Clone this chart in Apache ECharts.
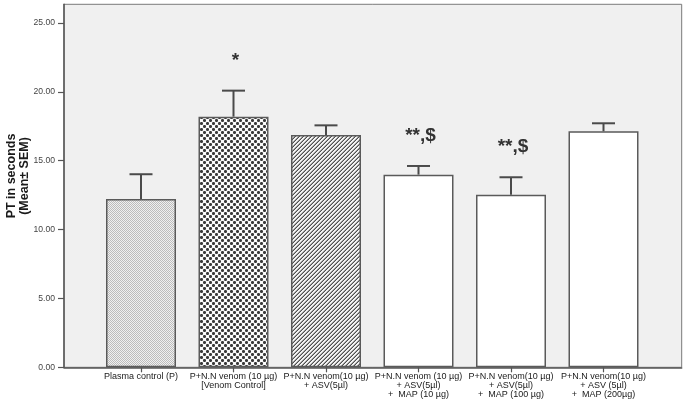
<!DOCTYPE html>
<html>
<head>
<meta charset="utf-8">
<script src="https://cdn.jsdelivr.net/npm/echarts@6/dist/echarts.min.js"></script>
<style>html,body{margin:0;padding:0;background:#fff;}#c{width:685px;height:405px;}</style>
</head>
<body>
<div id="c"></div>
<script>
const categories = [
  'Plasma control (P)',
  'P+N.N venom (10 µg)\n[Venom Control]',
  'P+N.N venom(10 µg)\n+ ASV(5µl)',
  'P+N.N venom (10 µg)\n+ ASV(5µl)\n+  MAP (10 µg)',
  'P+N.N venom(10 µg)\n+ ASV(5µl)\n+  MAP (100 µg)',
  'P+N.N venom(10 µg)\n+ ASV (5µl)\n+  MAP (200µg)'
];
const means = [12.22, 18.20, 16.87, 13.99, 12.53, 17.14];
const sems = [1.80, 1.89, 0.70, 0.63, 1.27, 0.58];
const annotations = ['', '*', '', '**,$', '**,$', ''];
const yTicks = [0, 5, 10, 15, 20, 25];
const yMax = 26.36;

function makeTile(w, h, bg, pixels) {
  const c = document.createElement('canvas');
  c.width = w; c.height = h;
  const g = c.getContext('2d');
  g.fillStyle = bg; g.fillRect(0, 0, w, h);
  pixels.forEach(p => { g.fillStyle = p[2]; g.fillRect(p[0], p[1], 1, 1); });
  return c;
}
const dk = '#3a3a3a', md = '#7a7a7a';
const pat1 = makeTile(2, 2, '#f0f0f0', [[0,0,'#bcbcbc'],[1,1,'#bcbcbc']]);
const pat2 = makeTile(6, 6, '#fbfbfb', [
  [0,0,dk],[1,0,dk],[5,0,dk],[0,1,dk],[0,5,dk],
  [3,3,dk],[3,2,dk],[3,4,dk],[2,3,dk],[4,3,dk],
  [1,1,md],[2,2,md],[4,4,md],[5,5,md],[4,2,md],[5,1,md],[2,4,md],[1,5,md]
]);
const pat3 = makeTile(4, 4, '#f4f4f4', [
  [3,0,'#505050'],[2,1,'#505050'],[1,2,'#505050'],[0,3,'#505050'],
  [2,0,'#a0a0a0'],[1,1,'#a0a0a0'],[0,2,'#a0a0a0'],[3,3,'#a0a0a0']
]);
const fills = [
  {image: pat1, repeat: 'repeat'},
  {image: pat2, repeat: 'repeat'},
  {image: pat3, repeat: 'repeat'},
  '#ffffff', '#ffffff', '#ffffff'
];

const FONT = 'Liberation Sans, Arial, sans-serif';
const chart = echarts.init(document.getElementById('c'), null, {renderer: 'canvas'});
const gTop = 4.3, gBottom = 405 - 367.3;

chart.setOption({
  animation: false,
  grid: [
    {left: 64, right: 3.3, top: gTop, bottom: gBottom, show: true, backgroundColor: '#f0f0f0', borderColor: '#7a7a7a', borderWidth: 1},
    {left: 94.75, right: 35.25, top: gTop, bottom: gBottom}
  ],
  xAxis: [
    {gridIndex: 0, type: 'value', min: 0, max: 1, axisLabel: {show: false}, axisTick: {show: false}, splitLine: {show: false},
     axisLine: {show: true, lineStyle: {color: '#555', width: 1.5}}},
    {gridIndex: 1, type: 'category', data: categories, axisLine: {show: false},
     axisTick: {show: true, alignWithLabel: true, length: 5, lineStyle: {color: '#555', width: 1.2}},
     axisLabel: {interval: 0, fontSize: 9, lineHeight: 9, color: '#1a1a1a', margin: 5, fontFamily: FONT}}
  ],
  yAxis: [
    {gridIndex: 0, type: 'value', min: 0, max: yMax, splitLine: {show: false},
     axisLine: {show: true, lineStyle: {color: '#555', width: 1.5}},
     axisTick: {show: true, length: 6, customValues: yTicks, lineStyle: {color: '#555', width: 1.2}},
     axisLabel: {customValues: yTicks, formatter: v => v.toFixed(2), fontSize: 8.6, color: '#444', margin: 9, fontFamily: FONT}},
    {gridIndex: 1, type: 'value', min: 0, max: yMax, show: false}
  ],
  graphic: [{
    type: 'text', x: 18.5, y: 176, rotation: Math.PI / 2,
    style: {text: 'PT in seconds\n(Mean± SEM)', align: 'center', verticalAlign: 'middle',
      fontSize: 12.5, fontWeight: 'bold', lineHeight: 13, fontFamily: FONT, fill: '#1a1a1a'}
  }],
  series: [
    {type: 'bar', xAxisIndex: 1, yAxisIndex: 1, barWidth: 70,
     data: means.map((m, i) => ({value: m, itemStyle: {color: fills[i]}})),
     itemStyle: {borderColor: '#5a5a5a', borderWidth: 1.5}, z: 2},
    {type: 'custom', xAxisIndex: 1, yAxisIndex: 1, z: 3,
     data: means.map((m, i) => [i, m, sems[i]]),
     renderItem: function (params, api) {
       const i = api.value(0), m = api.value(1), s = api.value(2);
       const b = api.coord([i, m]), t = api.coord([i, m + s]);
       const half = 11.5;
       const ls = {stroke: '#4a4a4a', lineWidth: 2};
       const children = [
         {type: 'line', shape: {x1: b[0], y1: b[1], x2: t[0], y2: t[1]}, style: ls},
         {type: 'line', shape: {x1: t[0] - half, y1: t[1], x2: t[0] + half, y2: t[1]}, style: ls}
       ];
       const a = annotations[params.dataIndex];
       if (a) {
         children.push({type: 'text', x: t[0] + 2, y: t[1] - 30,
           style: {text: a, align: 'center', verticalAlign: 'middle', fontSize: 19, fontWeight: 'bold', fontFamily: FONT, fill: '#333'}});
       }
       return {type: 'group', children: children};
     }}
  ]
});
</script>
</body>
</html>
